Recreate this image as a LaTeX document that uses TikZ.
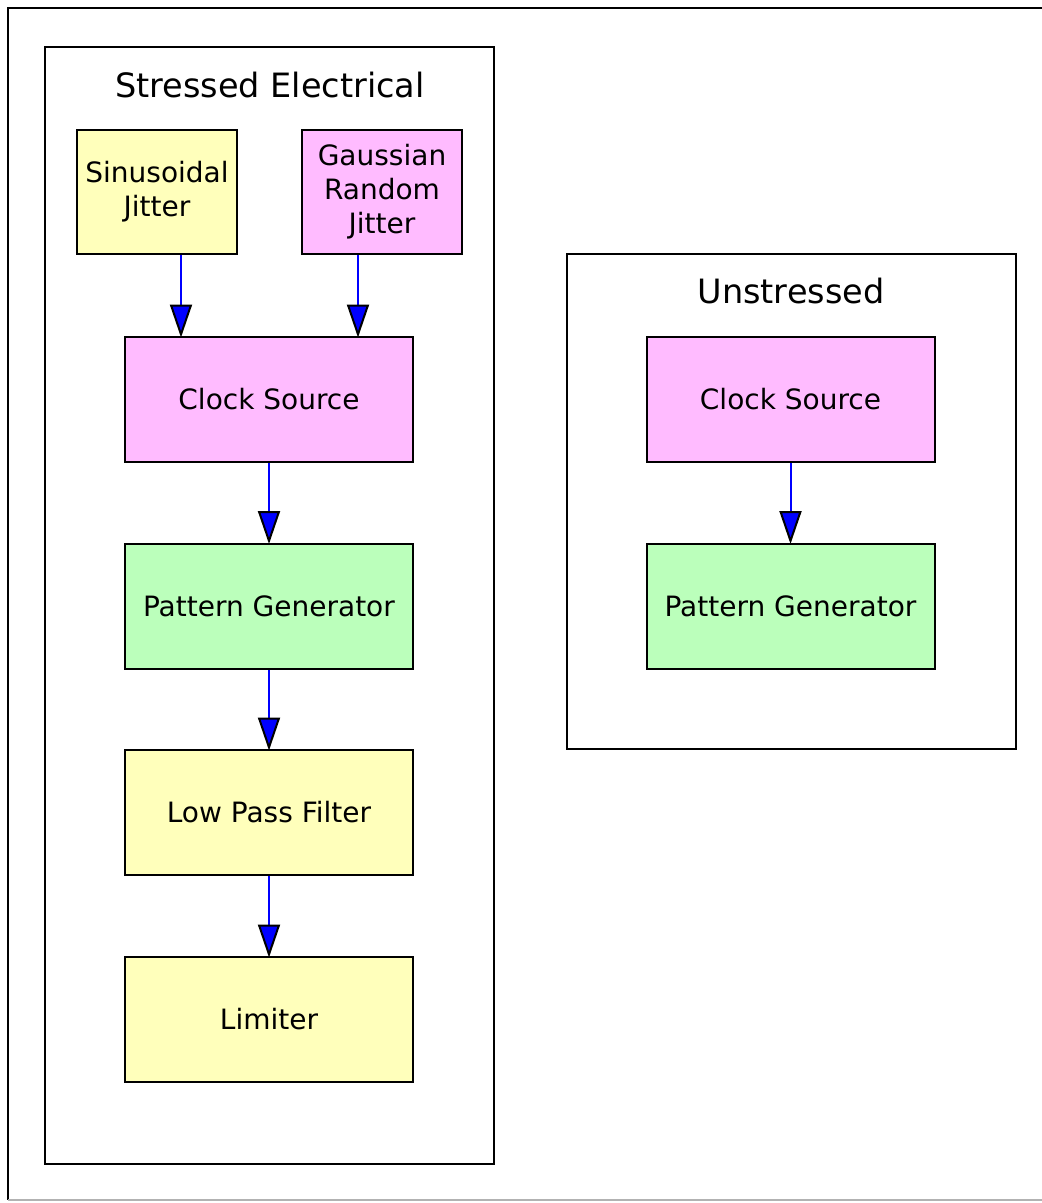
\documentclass[tikz,border=0pt]{standalone}
\usepackage{fontspec}
\setmainfont{DejaVu Sans}
\usetikzlibrary{arrows.meta,calc}
\definecolor{nyellow}{HTML}{FFFFBB}
\definecolor{npink}{HTML}{FFBBFF}
\definecolor{ngreen}{HTML}{BBFFBB}
\begin{document}
\begin{tikzpicture}[x=1pt,y=-1pt,
  box/.style={draw=black, line width=2pt, rectangle, minimum width=288pt, minimum height=125pt, inner sep=0pt, align=center, font=\fontsize{28}{34}\selectfont},
  smallbox/.style={box, minimum width=160pt, minimum height=124pt},
  frame/.style={draw=black, line width=2pt},
  ctitle/.style={font=\fontsize{33.5}{40}\selectfont, inner sep=0pt},
  edge/.style={draw=blue, line width=2pt, shorten >=-1.5pt, -{Triangle[length=33pt,width=22pt,color=black,fill=blue,line width=2pt]}}]
\useasboundingbox (0,0) rectangle (1042,1203);
\fill[white] (0,0) rectangle (1042,1203);
% outer frame
\draw[frame] (1050,8) -- (8,8) -- (8,1200);
\draw[line width=2pt, black!30] (8,1200) -- (1050,1200);
% clusters
\draw[frame] (45,47) rectangle (494,1164);
\node[ctitle] (t1) at (270,85) {Stressed Electrical};
\draw[frame] (567,254) rectangle (1016,749);
\node[ctitle] (t2) at (791,291) {Unstressed};
% stressed nodes
\node[smallbox, fill=nyellow] (sj) at (157,192) {Sinusoidal\\Jitter};
\node[smallbox, fill=npink] (gj) at (382,192) {Gaussian\\Random\\Jitter};
\node[box, fill=npink] (cs1) at (269,399.5) {Clock Source};
\node[box, fill=ngreen] (pg1) at (269,606) {Pattern Generator};
\node[box, fill=nyellow] (lp) at (269,812.5) {Low Pass Filter};
\node[box, fill=nyellow] (lim) at (269,1019.5) {Limiter};
% unstressed nodes
\node[box, fill=npink] (cs2) at (790.5,399.5) {Clock Source};
\node[box, fill=ngreen] (pg2) at (790.5,606) {Pattern Generator};
% edges
\draw[edge] ([xshift=24pt]sj.south) -- ([xshift=24pt]sj.south |- cs1.north);
\draw[edge] ([xshift=-24pt]gj.south) -- ([xshift=-24pt]gj.south |- cs1.north);
\draw[edge] (cs1.south) -- (pg1.north);
\draw[edge] (pg1.south) -- (lp.north);
\draw[edge] (lp.south) -- (lim.north);
\draw[edge] (cs2.south) -- (pg2.north);
\end{tikzpicture}
\end{document}
